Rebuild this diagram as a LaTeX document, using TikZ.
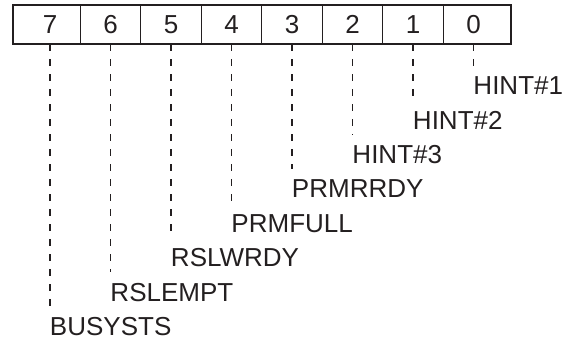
\documentclass[tikz,border=0pt]{standalone}
\usepackage{fontspec}
\setmainfont{Liberation Sans}
\usetikzlibrary{positioning}
\definecolor{inkgray}{RGB}{35,31,32}
\tikzset{
  bitcell/.style ={rectangle, minimum width=30.25pt, minimum height=19.5pt, inner sep=0pt,
                   outer sep=0pt, font=\fontsize{13}{15}\selectfont, text=inkgray},
  sigtag/.style  ={anchor=west, inner xsep=0pt, inner ysep=5.5pt, outer sep=0pt,
                   font=\fontsize{13}{15}\selectfont, text=inkgray},
  regframe/.style={draw=inkgray, line width=1pt},
  divider/.style ={draw=inkgray, line width=0.5pt},
  lead/.style    ={draw=inkgray, line width=0.55pt, dash pattern=on 3.5pt off 4pt},
}

\begin{document}
\begin{tikzpicture}[x=0.5pt, y=-0.5pt, node distance=0pt]
\useasboundingbox (0,0) rectangle (570,345);
\node[bitcell] (b7) at (50,24.5) {7};
\foreach \i/\j in {6/7,5/6,4/5,3/4,2/3,1/2,0/1}
  \node[bitcell, right=of b\j] (b\i) {\i};
\foreach \i in {7,...,1} \draw[divider] (b\i.north east) -- (b\i.south east);
\draw[regframe] ([xshift=-3.4pt]b7.north west) rectangle ([xshift=3.5pt]b0.south east);

% signal names, one step lower per bit
\foreach \i/\name [count=\k from 0] in {0/HINT\#1,1/HINT\#2,2/HINT\#3,3/PRMRRDY,
                                       4/PRMFULL,5/RSLWRDY,6/RSLEMPT,7/BUSYSTS} {
  \node[sigtag] (s\i) at ([yshift={-20.75pt-17.25pt*\k}]b\i.south) {\name};
  \draw[lead] (b\i.south) -- (s\i.north west);
}
\end{tikzpicture}
\end{document}
